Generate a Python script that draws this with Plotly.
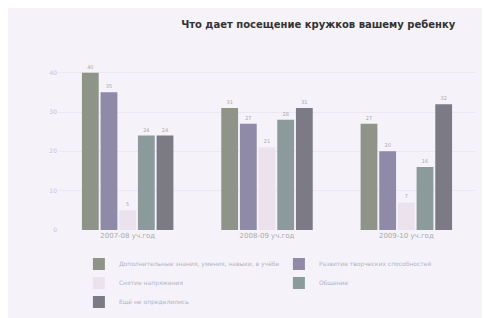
import plotly.graph_objects as go

categories = ["2007-08 уч.год", "2008-09 уч.год", "2009-10 уч.год"]
series_names = [
    "Дополнительные знания, умения, навыки, в учёбе",
    "Развитие творческих способностей",
    "Снятие напряжения",
    "Общение",
    "Ещё не определились",
]
values_1 = [40, 31, 27]
values_2 = [35, 27, 20]
values_3 = [5, 21, 7]
values_4 = [24, 28, 16]
values_5 = [24, 31, 32]
all_values = [values_1, values_2, values_3, values_4, values_5]
colors = ["#8e9588", "#8e8aa8", "#ebe2ee", "#8b9b9b", "#7b7a85"]

fig = go.Figure()
for name, vals, col in zip(series_names, all_values, colors):
    fig.add_trace(go.Bar(
        x=categories, y=vals, name=name,
        marker=dict(color=col, line=dict(width=0)),
        text=[str(v) for v in vals], textposition="outside",
        textfont=dict(size=5, color="#aaa"),
        cliponaxis=False,
    ))

fig.update_layout(
    width=490, height=318,
    paper_bgcolor="#f5f2f9", plot_bgcolor="#f5f2f9",
    margin=dict(l=50, r=22, t=45, b=96, autoexpand=False),
    barmode="group", bargap=0.33, bargroupgap=0.1,
    title=dict(text="<b>Что дает посещение кружков вашему ребенку</b>",
               x=0.633, xanchor="center", y=0.947, yanchor="middle",
               font=dict(family="DejaVu Sans", size=10, color="#333")),
    font=dict(family="DejaVu Sans", size=6, color="#aaa"),
    showlegend=True,
    legend=dict(orientation="h", x=0.05, y=-0.11, xanchor="left", yanchor="top",
                entrywidth=155, entrywidthmode="pixels",
                font=dict(size=6, color="#b4b4c4"), bgcolor="rgba(0,0,0,0)",
                itemwidth=30, tracegroupgap=0),
    xaxis=dict(showgrid=False, showline=False, ticks="",
               tickfont=dict(size=7, color="#aaa")),
    yaxis=dict(range=[0, 45], dtick=10, showgrid=True, gridcolor="#ece7f1",
               zeroline=False, showline=False,
               tickfont=dict(size=6, color="#c8c4d0")),
)

fig.write_html("out.html")
